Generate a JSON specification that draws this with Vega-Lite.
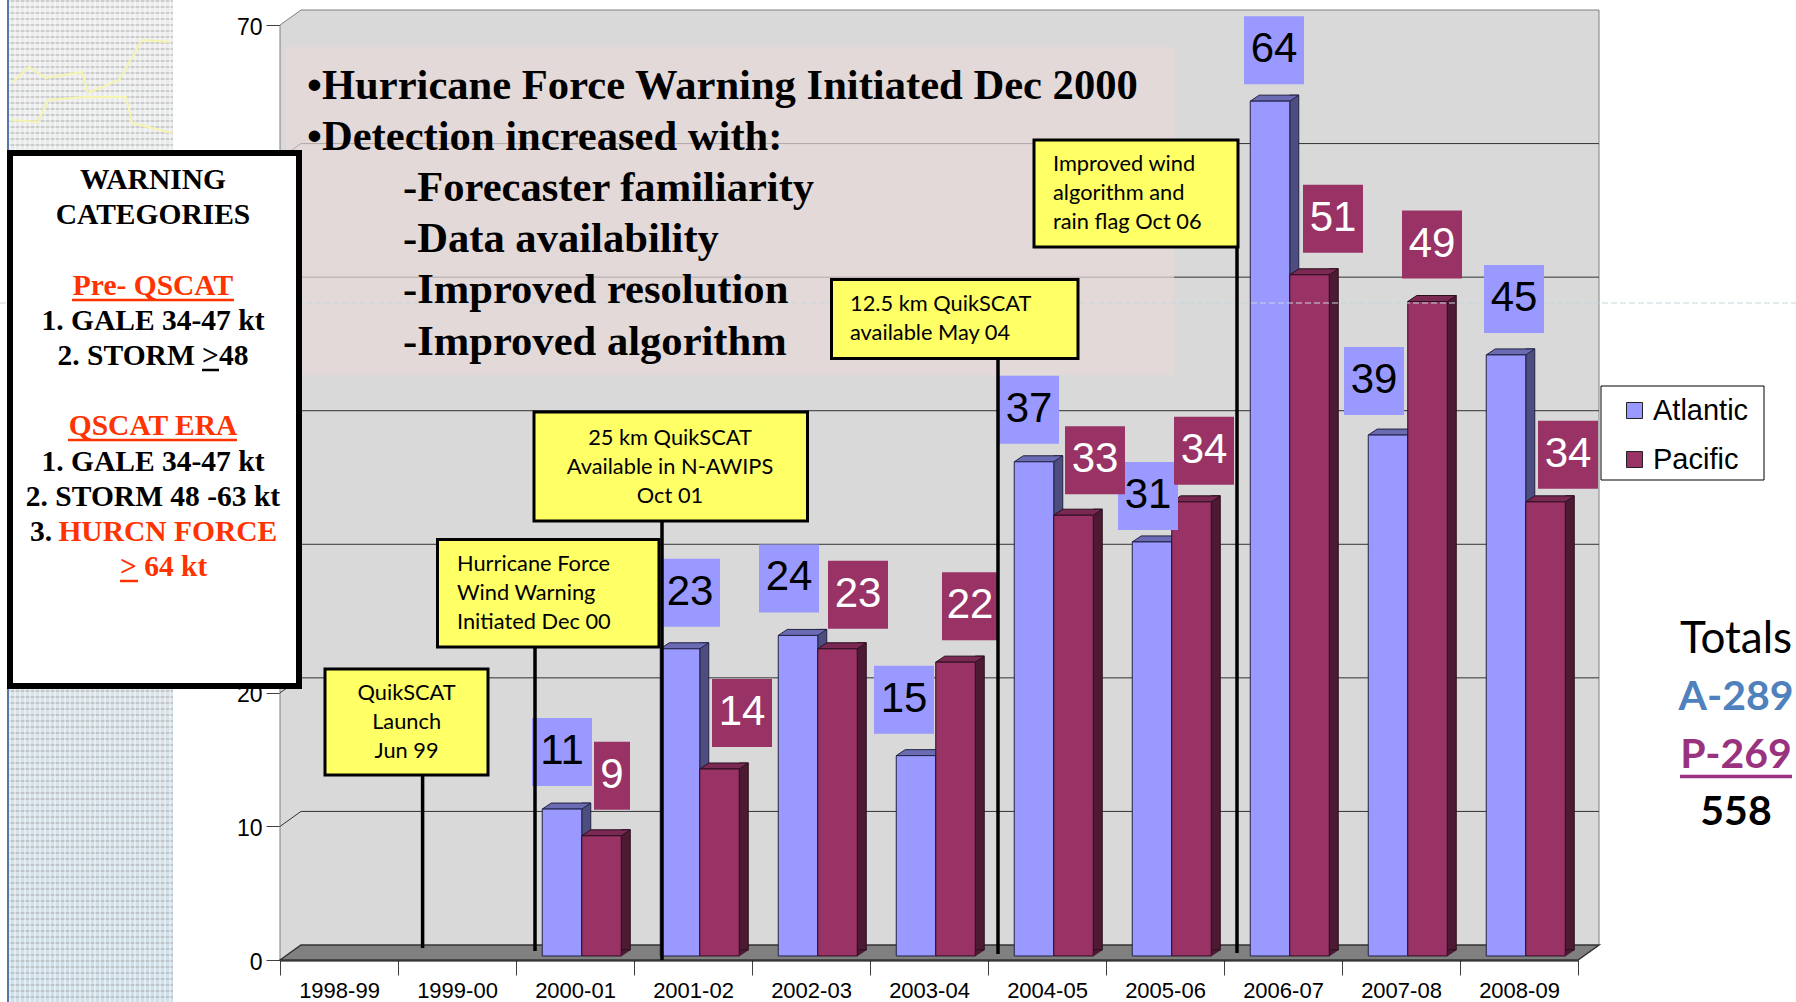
{"$schema":"https://vega.github.io/schema/vega-lite/v6.json","autosize":"none","padding":{"left":280,"top":25,"right":218,"bottom":42},"width":1298,"height":935,"background":"white","view":{"stroke":null},
"datasets":{"anchor":[{"season":"1998-99","value":0}],
"bars":[
{"season":"2000-01","series":"Atlantic","value":11},{"season":"2000-01","series":"Pacific","value":9},
{"season":"2001-02","series":"Atlantic","value":23},{"season":"2001-02","series":"Pacific","value":14},
{"season":"2002-03","series":"Atlantic","value":24},{"season":"2002-03","series":"Pacific","value":23},
{"season":"2003-04","series":"Atlantic","value":15},{"season":"2003-04","series":"Pacific","value":22},
{"season":"2004-05","series":"Atlantic","value":37},{"season":"2004-05","series":"Pacific","value":33},
{"season":"2005-06","series":"Atlantic","value":31},{"season":"2005-06","series":"Pacific","value":34},
{"season":"2006-07","series":"Atlantic","value":64},{"season":"2006-07","series":"Pacific","value":51},
{"season":"2007-08","series":"Atlantic","value":39},{"season":"2007-08","series":"Pacific","value":49},
{"season":"2008-09","series":"Atlantic","value":45},{"season":"2008-09","series":"Pacific","value":34}],
"grid":[{"season":"1998-99","value":10},{"season":"1998-99","value":20},{"season":"1998-99","value":30},{"season":"1998-99","value":40},{"season":"1998-99","value":50},{"season":"1998-99","value":60}]},
"data":{"name":"bars"},
"encoding":{
"x":{"field":"season","type":"nominal","sort":null,"scale":{"domain":["1998-99","1999-00","2000-01","2001-02","2002-03","2003-04","2004-05","2005-06","2006-07","2007-08","2008-09"],"paddingInner":0,"paddingOuter":0},"axis":{"title":null,"labelAngle":0,"tickBand":"extent","tickSize":15,"tickColor":"#404040","domainColor":"#000000","domainWidth":2,"labelFont":"Liberation Sans","labelFontSize":22,"labelColor":"#000000","labelPadding":5,"grid":false}},
"y":{"field":"value","type":"quantitative","stack":null,"scale":{"domain":[0,70]},"axis":{"title":null,"values":[0,10,20,30,40,50,60,70],"tickSize":14,"tickColor":"#404040","domainColor":"#808080","labelFont":"Liberation Sans","labelFontSize":23,"labelColor":"#000000","labelPadding":4,"labelOffset":2,"grid":false}}},
"layer":[
{"data":{"name":"anchor"},"mark":{"type":"point"},"encoding":{"opacity":{"value":0}}},
{"data":{"name":"anchor"},"layer":[
{"mark":{"type":"point","xOffset":-59,"size":4,"filled":true,"opacity":1,"fill":{"gradient":"linear","x1":0,"y1":0,"x2":0,"y2":1,"stops":[{"offset":0,"color":"#EDEDED"},{"offset":0.55,"color":"#DFE4E8"},{"offset":1,"color":"#CFE0EA"}]},"shape":"M-271,-960H-107V42H-271Z"}},
{"mark":{"type":"point","xOffset":-59,"size":4,"filled":false,"opacity":0.3,"stroke":"#888888","strokeWidth":164,"strokeDash":[2,4],"shape":"M-189,-960V42"}},
{"mark":{"type":"point","xOffset":-59,"size":4,"filled":false,"opacity":0.45,"stroke":"#FFFFFF","strokeWidth":1002,"strokeDash":[2,3],"shape":"M-271,-459H-107"}},
{"mark":{"type":"point","xOffset":-59,"size":4,"filled":false,"opacity":1,"stroke":"#5577AA","strokeWidth":2,"shape":"M-272,-960V42"}},
{"mark":{"type":"point","xOffset":-59,"size":4,"filled":false,"opacity":1,"stroke":"#F5F5B0","strokeWidth":2,"shape":"M-267,-878L-251,-893L-234,-882L-198,-888L-192,-867L-161,-880L-138,-920L-110,-918M-269,-840L-242,-838L-232,-860L-196,-863L-154,-863L-148,-837L-108,-827"}},
{"mark":{"type":"point","xOffset":-59,"size":4,"filled":true,"opacity":1,"fill":"#D9D9D9","stroke":"#808080","strokeWidth":1,"shape":"M0,0V-935L21,-950H1319V-15L1298,0Z"}},
{"mark":{"type":"point","xOffset":-59,"size":4,"filled":true,"opacity":1,"fill":"#808080","stroke":"#333333","strokeWidth":1.5,"shape":"M0,0L21,-15H1319L1298,0Z"}},
{"mark":{"type":"point","xOffset":-59,"size":4,"filled":true,"opacity":1,"fill":"#FFFFFF","stroke":"#000000","strokeWidth":1,"shape":"M1321,-574H1484V-480H1321Z"}}
]},
{"data":{"name":"grid"},"mark":{"type":"point","xOffset":-59,"size":4,"filled":false,"opacity":1,"stroke":"#333333","strokeWidth":1,"shape":"M0,0L21,-15H1319"}},
{"transform":[{"filter":"datum.series=='Atlantic'"}],"encoding":{"y2":{"datum":0.0001}},"mark":{"type":"bar","width":9,"xOffset":11.25,"fill":"#4D4D80","stroke":"#222244","strokeWidth":1,"yOffset":-10,"y2Offset":-10}},
{"transform":[{"filter":"datum.series=='Pacific'"}],"encoding":{"y2":{"datum":0.0001}},"mark":{"type":"bar","width":9,"xOffset":50.75,"fill":"#4D1A33","stroke":"#2A0F1E","strokeWidth":1,"yOffset":-10,"y2Offset":-10}},
{"transform":[{"filter":"datum.series=='Atlantic'"}],"mark":{"type":"point","xOffset":-13,"yOffset":-4,"size":4,"filled":true,"opacity":1,"fill":"#6B6BB3","stroke":"#222244","strokeWidth":1,"shape":"M-19.75,0L19.75,0L28.75,-6L-10.75,-6Z"}},
{"transform":[{"filter":"datum.series=='Pacific'"}],"mark":{"type":"point","xOffset":26.5,"yOffset":-4,"size":4,"filled":true,"opacity":1,"fill":"#7A2952","stroke":"#2A0F1E","strokeWidth":1,"shape":"M-19.75,0L19.75,0L28.75,-6L-10.75,-6Z"}},
{"transform":[{"filter":"datum.series=='Pacific'"}],"encoding":{"y":{"datum":0.0001,"type":"quantitative"}},"mark":{"type":"point","xOffset":26.5,"yOffset":-4,"size":4,"filled":true,"opacity":1,"fill":"#4D1A33","stroke":"#2A0F1E","strokeWidth":0.5,"shape":"M19.75,0V-6H28.75Z"}},
{"transform":[{"filter":"datum.series=='Atlantic'"}],"encoding":{"y2":{"datum":0.0001},"color":{"field":"series","type":"nominal","scale":{"domain":["Atlantic","Pacific"],"range":["#9999FF","#993366"]},"legend":{"orient":"none","legendX":1340,"legendY":371,"title":null,"padding":0,"symbolType":"square","symbolSize":256,"symbolStrokeColor":"#222222","symbolStrokeWidth":1,"labelFont":"Liberation Sans","labelFontSize":29,"labelColor":"#000000","labelOffset":4,"rowPadding":19}}},"mark":{"type":"bar","width":39.5,"xOffset":-13,"yOffset":-4,"y2Offset":-4,"stroke":"#222244","strokeWidth":1}},
{"transform":[{"filter":"datum.series=='Pacific'"}],"encoding":{"y2":{"datum":0.0001},"color":{"field":"series","type":"nominal","scale":{"domain":["Atlantic","Pacific"],"range":["#9999FF","#993366"]},"legend":{"orient":"none","legendX":1340,"legendY":371,"title":null,"padding":0,"symbolType":"square","symbolSize":256,"symbolStrokeColor":"#222222","symbolStrokeWidth":1,"labelFont":"Liberation Sans","labelFontSize":29,"labelColor":"#000000","labelOffset":4,"rowPadding":19}}},"mark":{"type":"bar","width":39.5,"xOffset":26.5,"yOffset":-4,"y2Offset":-4,"stroke":"#2A0F1E","strokeWidth":1}},
{"data":{"name":"anchor"},"layer":[
{"mark":{"type":"point","xOffset":-59,"size":4,"filled":true,"opacity":0.7,"fill":"#E8D9D9","shape":"M6,-913H894V-585H6Z"}},
{"mark":{"type":"point","xOffset":-59,"size":4,"filled":false,"opacity":1,"stroke":"#C5D5DD","strokeWidth":1,"strokeDash":[6,3],"shape":"M-280,-657H1516"}}
]},
{"transform":[{"filter":"datum.series=='Atlantic'"}],"layer":[
{"transform":[{"filter":"datum.season=='2000-01'"}],"mark":{"type":"point","xOffset":-13,"yOffset":-61,"size":4,"filled":true,"opacity":1,"fill":"#9999FF","shape":"M-30,-34H30V34H-30Z"}},
{"transform":[{"filter":"datum.season=='2001-02'"}],"mark":{"type":"point","xOffset":-3,"yOffset":-60,"size":4,"filled":true,"opacity":1,"fill":"#9999FF","shape":"M-30,-34H30V34H-30Z"}},
{"transform":[{"filter":"datum.season=='2002-03'"}],"mark":{"type":"point","xOffset":-22,"yOffset":-61,"size":4,"filled":true,"opacity":1,"fill":"#9999FF","shape":"M-30,-34H30V34H-30Z"}},
{"transform":[{"filter":"datum.season=='2003-04'"}],"mark":{"type":"point","xOffset":-25,"yOffset":-60,"size":4,"filled":true,"opacity":1,"fill":"#9999FF","shape":"M-30,-34H30V34H-30Z"}},
{"transform":[{"filter":"datum.season=='2004-05'"}],"mark":{"type":"point","xOffset":-18,"yOffset":-56,"size":4,"filled":true,"opacity":1,"fill":"#9999FF","shape":"M-30,-34H30V34H-30Z"}},
{"transform":[{"filter":"datum.season=='2005-06'"}],"mark":{"type":"point","xOffset":-17,"yOffset":-50,"size":4,"filled":true,"opacity":1,"fill":"#9999FF","shape":"M-30,-34H30V34H-30Z"}},
{"transform":[{"filter":"datum.season=='2006-07'"}],"mark":{"type":"point","xOffset":-9,"yOffset":-55,"size":4,"filled":true,"opacity":1,"fill":"#9999FF","shape":"M-30,-34H30V34H-30Z"}},
{"transform":[{"filter":"datum.season=='2007-08'"}],"mark":{"type":"point","xOffset":-27,"yOffset":-58,"size":4,"filled":true,"opacity":1,"fill":"#9999FF","shape":"M-30,-34H30V34H-30Z"}},
{"transform":[{"filter":"datum.season=='2008-09'"}],"mark":{"type":"point","xOffset":-5,"yOffset":-60,"size":4,"filled":true,"opacity":1,"fill":"#9999FF","shape":"M-30,-34H30V34H-30Z"}},
{"transform":[{"filter":"datum.season=='2000-01'"}],"encoding":{"text":{"field":"value"}},"mark":{"type":"text","xOffset":-13,"yOffset":-62,"baseline":"middle","font":"Liberation Sans","fontSize":42,"fill":"#000000"}},
{"transform":[{"filter":"datum.season=='2001-02'"}],"encoding":{"text":{"field":"value"}},"mark":{"type":"text","xOffset":-3,"yOffset":-61,"baseline":"middle","font":"Liberation Sans","fontSize":42,"fill":"#000000"}},
{"transform":[{"filter":"datum.season=='2002-03'"}],"encoding":{"text":{"field":"value"}},"mark":{"type":"text","xOffset":-22,"yOffset":-62,"baseline":"middle","font":"Liberation Sans","fontSize":42,"fill":"#000000"}},
{"transform":[{"filter":"datum.season=='2003-04'"}],"encoding":{"text":{"field":"value"}},"mark":{"type":"text","xOffset":-25,"yOffset":-61,"baseline":"middle","font":"Liberation Sans","fontSize":42,"fill":"#000000"}},
{"transform":[{"filter":"datum.season=='2004-05'"}],"encoding":{"text":{"field":"value"}},"mark":{"type":"text","xOffset":-18,"yOffset":-57,"baseline":"middle","font":"Liberation Sans","fontSize":42,"fill":"#000000"}},
{"transform":[{"filter":"datum.season=='2005-06'"}],"encoding":{"text":{"field":"value"}},"mark":{"type":"text","xOffset":-17,"yOffset":-51,"baseline":"middle","font":"Liberation Sans","fontSize":42,"fill":"#000000"}},
{"transform":[{"filter":"datum.season=='2006-07'"}],"encoding":{"text":{"field":"value"}},"mark":{"type":"text","xOffset":-9,"yOffset":-56,"baseline":"middle","font":"Liberation Sans","fontSize":42,"fill":"#000000"}},
{"transform":[{"filter":"datum.season=='2007-08'"}],"encoding":{"text":{"field":"value"}},"mark":{"type":"text","xOffset":-27,"yOffset":-59,"baseline":"middle","font":"Liberation Sans","fontSize":42,"fill":"#000000"}},
{"transform":[{"filter":"datum.season=='2008-09'"}],"encoding":{"text":{"field":"value"}},"mark":{"type":"text","xOffset":-5,"yOffset":-61,"baseline":"middle","font":"Liberation Sans","fontSize":42,"fill":"#000000"}}
]},
{"transform":[{"filter":"datum.series=='Pacific'"}],"layer":[
{"transform":[{"filter":"datum.season=='2000-01'"}],"mark":{"type":"point","xOffset":37,"yOffset":-64,"size":4,"filled":true,"opacity":1,"fill":"#993366","shape":"M-18,-34H18V34H-18Z"}},
{"transform":[{"filter":"datum.season=='2001-02'"}],"mark":{"type":"point","xOffset":49,"yOffset":-60,"size":4,"filled":true,"opacity":1,"fill":"#993366","shape":"M-30,-34H30V34H-30Z"}},
{"transform":[{"filter":"datum.season=='2002-03'"}],"mark":{"type":"point","xOffset":47,"yOffset":-58,"size":4,"filled":true,"opacity":1,"fill":"#993366","shape":"M-30,-34H30V34H-30Z"}},
{"transform":[{"filter":"datum.season=='2003-04'"}],"mark":{"type":"point","xOffset":41,"yOffset":-60,"size":4,"filled":true,"opacity":1,"fill":"#993366","shape":"M-28,-34H28V34H-28Z"}},
{"transform":[{"filter":"datum.season=='2004-05'"}],"mark":{"type":"point","xOffset":48,"yOffset":-59,"size":4,"filled":true,"opacity":1,"fill":"#993366","shape":"M-30,-34H30V34H-30Z"}},
{"transform":[{"filter":"datum.season=='2005-06'"}],"mark":{"type":"point","xOffset":39,"yOffset":-55,"size":4,"filled":true,"opacity":1,"fill":"#993366","shape":"M-30,-34H30V34H-30Z"}},
{"transform":[{"filter":"datum.season=='2006-07'"}],"mark":{"type":"point","xOffset":50,"yOffset":-60,"size":4,"filled":true,"opacity":1,"fill":"#993366","shape":"M-30,-34H30V34H-30Z"}},
{"transform":[{"filter":"datum.season=='2007-08'"}],"mark":{"type":"point","xOffset":31,"yOffset":-61,"size":4,"filled":true,"opacity":1,"fill":"#993366","shape":"M-30,-34H30V34H-30Z"}},
{"transform":[{"filter":"datum.season=='2008-09'"}],"mark":{"type":"point","xOffset":49,"yOffset":-51,"size":4,"filled":true,"opacity":1,"fill":"#993366","shape":"M-30,-34H30V34H-30Z"}},
{"transform":[{"filter":"datum.season=='2000-01'"}],"encoding":{"text":{"field":"value"}},"mark":{"type":"text","xOffset":37,"yOffset":-65,"baseline":"middle","font":"Liberation Sans","fontSize":42,"fill":"#FFFFFF"}},
{"transform":[{"filter":"datum.season=='2001-02'"}],"encoding":{"text":{"field":"value"}},"mark":{"type":"text","xOffset":49,"yOffset":-61,"baseline":"middle","font":"Liberation Sans","fontSize":42,"fill":"#FFFFFF"}},
{"transform":[{"filter":"datum.season=='2002-03'"}],"encoding":{"text":{"field":"value"}},"mark":{"type":"text","xOffset":47,"yOffset":-59,"baseline":"middle","font":"Liberation Sans","fontSize":42,"fill":"#FFFFFF"}},
{"transform":[{"filter":"datum.season=='2003-04'"}],"encoding":{"text":{"field":"value"}},"mark":{"type":"text","xOffset":41,"yOffset":-61,"baseline":"middle","font":"Liberation Sans","fontSize":42,"fill":"#FFFFFF"}},
{"transform":[{"filter":"datum.season=='2004-05'"}],"encoding":{"text":{"field":"value"}},"mark":{"type":"text","xOffset":48,"yOffset":-60,"baseline":"middle","font":"Liberation Sans","fontSize":42,"fill":"#FFFFFF"}},
{"transform":[{"filter":"datum.season=='2005-06'"}],"encoding":{"text":{"field":"value"}},"mark":{"type":"text","xOffset":39,"yOffset":-56,"baseline":"middle","font":"Liberation Sans","fontSize":42,"fill":"#FFFFFF"}},
{"transform":[{"filter":"datum.season=='2006-07'"}],"encoding":{"text":{"field":"value"}},"mark":{"type":"text","xOffset":50,"yOffset":-61,"baseline":"middle","font":"Liberation Sans","fontSize":42,"fill":"#FFFFFF"}},
{"transform":[{"filter":"datum.season=='2007-08'"}],"encoding":{"text":{"field":"value"}},"mark":{"type":"text","xOffset":31,"yOffset":-62,"baseline":"middle","font":"Liberation Sans","fontSize":42,"fill":"#FFFFFF"}},
{"transform":[{"filter":"datum.season=='2008-09'"}],"encoding":{"text":{"field":"value"}},"mark":{"type":"text","xOffset":49,"yOffset":-52,"baseline":"middle","font":"Liberation Sans","fontSize":42,"fill":"#FFFFFF"}}
]},
{"data":{"name":"anchor"},"layer":[
{"mark":{"type":"point","xOffset":-59,"size":4,"filled":true,"opacity":1,"fill":"#FFFFFF","stroke":"#000000","strokeWidth":6,"shape":"M-270,-807H19V-274H-270Z"}},
{"mark":{"type":"point","xOffset":-59,"size":4,"filled":false,"opacity":1,"stroke":"#000000","strokeWidth":3.5,"shape":"M142.6,-184.5V-12M255,-316V-9M382,-439V0M718,-601V-6M957,-713V-7"}},
{"mark":{"type":"point","xOffset":-59,"size":4,"filled":true,"opacity":1,"fill":"#FFFF66","stroke":"#000000","strokeWidth":3,"shape":"M45,-291H208V-185H45Z"}},
{"mark":{"type":"point","xOffset":-59,"size":4,"filled":true,"opacity":1,"fill":"#FFFF66","stroke":"#000000","strokeWidth":3,"shape":"M157.5,-420.5H379V-313H157.5Z"}},
{"mark":{"type":"point","xOffset":-59,"size":4,"filled":true,"opacity":1,"fill":"#FFFF66","stroke":"#000000","strokeWidth":3,"shape":"M254,-548H527.5V-439H254Z"}},
{"mark":{"type":"point","xOffset":-59,"size":4,"filled":true,"opacity":1,"fill":"#FFFF66","stroke":"#000000","strokeWidth":3,"shape":"M551.5,-680.5H798V-601.5H551.5Z"}},
{"mark":{"type":"point","xOffset":-59,"size":4,"filled":true,"opacity":1,"fill":"#FFFF66","stroke":"#000000","strokeWidth":3,"shape":"M754,-820H958V-713H754Z"}},
{"mark":{"type":"text","xOffset":-59,"dx":126.6,"dy":-260,"baseline":"alphabetic","align":"center","font":"Lato","fontSize":21.8,"lineHeight":28.8,"fill":"#000000","text":["QuikSCAT","Launch","Jun 99"]}},
{"mark":{"type":"text","xOffset":-59,"dx":177,"dy":-389,"baseline":"alphabetic","align":"left","font":"Lato","fontSize":21.8,"lineHeight":28.8,"fill":"#000000","text":["Hurricane Force","Wind Warning","Initiated Dec 00"]}},
{"mark":{"type":"text","xOffset":-59,"dx":390,"dy":-515,"baseline":"alphabetic","align":"center","font":"Lato","fontSize":21.8,"lineHeight":28.8,"fill":"#000000","text":["25 km QuikSCAT","Available in N-AWIPS","Oct 01"]}},
{"mark":{"type":"text","xOffset":-59,"dx":570,"dy":-649,"baseline":"alphabetic","align":"left","font":"Lato","fontSize":21.8,"lineHeight":28.8,"fill":"#000000","text":["12.5 km QuikSCAT","available May 04"]}},
{"mark":{"type":"text","xOffset":-59,"dx":773,"dy":-789,"baseline":"alphabetic","align":"left","font":"Lato","fontSize":21.8,"lineHeight":28.8,"fill":"#000000","text":["Improved wind","algorithm and","rain flag Oct 06"]}},
{"mark":{"type":"text","xOffset":-59,"dx":27,"dy":-861,"baseline":"alphabetic","align":"left","font":"Liberation Serif","fontWeight":"bold","fontSize":42.6,"lineHeight":51.2,"fill":"#000000","text":["•Hurricane Force Warning Initiated Dec 2000","•Detection increased with:"]}},
{"mark":{"type":"text","xOffset":-59,"dx":123,"dy":-759,"baseline":"alphabetic","align":"left","font":"Liberation Serif","fontWeight":"bold","fontSize":42.6,"lineHeight":51.2,"fill":"#000000","text":["-Forecaster familiarity","-Data availability","-Improved resolution","-Improved algorithm"]}},
{"mark":{"type":"text","xOffset":-59,"dx":-127,"dy":-771,"baseline":"alphabetic","align":"center","font":"Liberation Serif","fontWeight":"bold","fontSize":29.5,"lineHeight":35.2,"fill":"#000000","text":["WARNING","CATEGORIES"]}},
{"mark":{"type":"text","xOffset":-59,"dx":-127,"dy":-630.2,"baseline":"alphabetic","align":"center","font":"Liberation Serif","fontWeight":"bold","fontSize":29.5,"lineHeight":35.2,"fill":"#000000","text":["1. GALE 34-47 kt","2. STORM >48"]}},
{"mark":{"type":"text","xOffset":-59,"dx":-127,"dy":-489.4,"baseline":"alphabetic","align":"center","font":"Liberation Serif","fontWeight":"bold","fontSize":29.5,"lineHeight":35.2,"fill":"#000000","text":["1. GALE 34-47 kt","2. STORM 48 -63 kt"]}},
{"mark":{"type":"text","xOffset":-59,"dx":-127,"dy":-665.4,"baseline":"alphabetic","align":"center","font":"Liberation Serif","fontWeight":"bold","fontSize":29.5,"fill":"#FF3300","text":"Pre- QSCAT"}},
{"mark":{"type":"text","xOffset":-59,"dx":-127,"dy":-524.6,"baseline":"alphabetic","align":"center","font":"Liberation Serif","fontWeight":"bold","fontSize":29.5,"fill":"#FF3300","text":"QSCAT ERA"}},
{"mark":{"type":"text","xOffset":-59,"dx":-250,"dy":-419,"baseline":"alphabetic","align":"left","font":"Liberation Serif","fontWeight":"bold","fontSize":29.5,"fill":"#000000","text":"3."}},
{"mark":{"type":"text","xOffset":-59,"dx":-221.6,"dy":-419,"baseline":"alphabetic","align":"left","font":"Liberation Serif","fontWeight":"bold","fontSize":29.5,"fill":"#FF3300","text":"HURCN FORCE"}},
{"mark":{"type":"text","xOffset":-59,"dx":-160,"dy":-384,"baseline":"alphabetic","align":"left","font":"Liberation Serif","fontWeight":"bold","fontSize":29.5,"fill":"#FF3300","text":"> 64 kt"}},
{"mark":{"type":"point","xOffset":-59,"size":4,"filled":false,"opacity":1,"stroke":"#FF3300","strokeWidth":2.5,"shape":"M-208,-660H-46M-212,-520H-43M-160,-379H-142"}},
{"mark":{"type":"point","xOffset":-59,"size":4,"filled":false,"opacity":1,"stroke":"#000000","strokeWidth":2.5,"shape":"M-78,-590H-61"}},
{"mark":{"type":"text","xOffset":-59,"dx":1456,"dy":-307,"baseline":"alphabetic","align":"center","font":"Lato","fontSize":44,"fill":"#000000","text":"Totals"}},
{"mark":{"type":"text","xOffset":-59,"dx":1456,"dy":-250,"baseline":"alphabetic","align":"center","font":"Lato","fontWeight":"bold","fontSize":41,"fill":"#4F81BD","text":"A-289"}},
{"mark":{"type":"text","xOffset":-59,"dx":1456,"dy":-192,"baseline":"alphabetic","align":"center","font":"Lato","fontWeight":"bold","fontSize":41,"fill":"#993380","text":"P-269"}},
{"mark":{"type":"text","xOffset":-59,"dx":1456,"dy":-135,"baseline":"alphabetic","align":"center","font":"Lato","fontWeight":"bold","fontSize":41,"fill":"#000000","text":"558"}},
{"mark":{"type":"point","xOffset":-59,"size":4,"filled":false,"opacity":1,"stroke":"#993380","strokeWidth":3.5,"shape":"M1400,-183.5H1512"}}
]}
]}
